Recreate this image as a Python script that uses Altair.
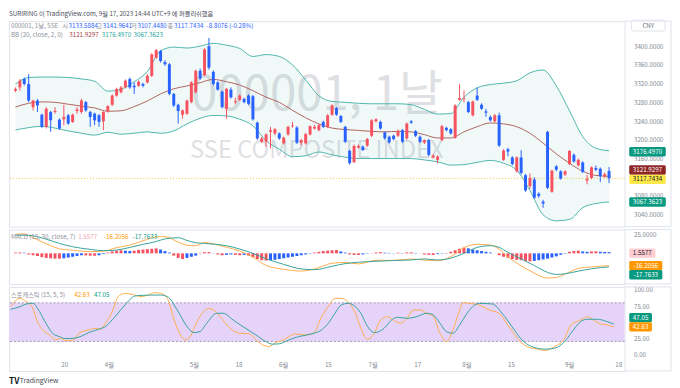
import altair as alt
import pandas as pd

# ------------------------------------------------------------------ data
OPEN = [3305.0, 3312.0, 3329.6, 3319.1, 3269.8, 3283.9, 3253.7, 3227.7, 3259.3, 3259.3,
        3243.1, 3243.8, 3252.3, 3238.2, 3261.4, 3259.3, 3280.4, 3259.3, 3255.8, 3252.3,
        3239.6, 3260.7, 3274.8, 3294.5, 3301.5, 3312.0, 3329.6, 3315.5, 3315.5, 3319.1,
        3322.6, 3336.6, 3375.3, 3389.4, 3366.0, 3361.3, 3298.0, 3274.8, 3253.7, 3255.8,
        3280.4, 3301.5, 3347.2, 3338.1, 3399.9, 3345.1, 3322.6, 3302.9, 3266.3, 3307.1,
        3280.4, 3285.3, 3287.4, 3294.5, 3293.1, 3236.8, 3196.0, 3196.0, 3217.1, 3213.6,
        3213.6, 3192.5, 3211.5, 3229.0, 3226.3, 3193.9, 3192.5, 3211.5, 3224.1,
        3220.6, 3238.2, 3227.7, 3253.7, 3267.7, 3250.9, 3227.7, 3176.3, 3152.4, 3183.4,
        3185.5, 3187.6, 3208.7, 3239.6, 3238.2, 3215.7, 3206.6, 3208.7, 3208.7, 3220.6,
        3203.0, 3239.6, 3218.5, 3206.6, 3193.9, 3199.5, 3162.3, 3157.3, 3199.5, 3225.6,
        3222.7, 3204.4, 3285.3, 3287.4, 3280.4, 3252.3, 3294.5, 3274.8, 3260.7, 3248.7,
        3239.6, 3252.3, 3157.3, 3179.8, 3162.3, 3132.7, 3162.3, 3124.3, 3101.1, 3115.1,
        3084.9, 3068.0, 3217.1, 3089.1, 3143.3, 3132.7, 3125.7, 3148.2, 3167.9, 3145.4,
        3151.7, 3113.0, 3118.6, 3139.8, 3138.3, 3122.2, 3133.5884]
HIGH = [3312.0, 3329.6, 3333.0, 3340.2, 3285.5, 3287.0, 3256.0, 3269.8, 3262.0, 3269.8,
        3246.0, 3274.8, 3255.0, 3256.0, 3269.8, 3287.4, 3283.0, 3262.0, 3258.0, 3255.0,
        3261.0, 3274.0, 3297.0, 3311.0, 3315.0, 3329.0, 3333.0, 3322.6, 3327.0, 3322.0,
        3340.0, 3385.0, 3394.0, 3392.0, 3370.0, 3364.0, 3300.0, 3277.0, 3265.0, 3286.0,
        3325.0, 3350.0, 3352.0, 3396.0, 3417.5, 3348.0, 3325.0, 3305.0, 3311.0, 3312.0,
        3290.0, 3297.0, 3290.0, 3297.0, 3296.0, 3239.0, 3206.0, 3214.0, 3227.7, 3225.0,
        3216.0, 3207.0, 3230.0, 3238.0, 3229.0, 3202.0, 3215.0, 3231.0, 3232.0,
        3234.0, 3241.0, 3255.0, 3276.0, 3270.0, 3253.0, 3230.0, 3179.0, 3190.0, 3190.0,
        3188.0, 3204.0, 3244.0, 3246.0, 3241.0, 3218.0, 3209.0, 3211.0, 3222.0, 3223.0,
        3237.0, 3242.0, 3221.0, 3209.0, 3201.0, 3202.0, 3169.0, 3167.0, 3232.0, 3228.0,
        3225.0, 3276.0, 3319.0, 3305.0, 3283.0, 3284.0, 3312.0, 3278.0, 3266.0, 3252.0,
        3255.0, 3258.0, 3180.0, 3183.0, 3165.0, 3165.0, 3178.0, 3127.0, 3128.0, 3120.0,
        3088.0, 3072.0, 3219.0, 3136.0, 3146.0, 3135.0, 3135.0, 3178.0, 3171.0, 3160.0,
        3154.0, 3125.0, 3143.0, 3145.0, 3141.0, 3130.0, 3141.9641]
LOW = [3301.5, 3305.0, 3316.0, 3280.4, 3262.8, 3259.3, 3225.0, 3224.1, 3217.1, 3255.8,
       3221.0, 3231.2, 3232.0, 3236.0, 3255.8, 3255.8, 3260.0, 3227.7, 3231.2, 3227.7,
       3220.6, 3258.0, 3272.0, 3292.0, 3299.0, 3310.0, 3309.0, 3298.0, 3313.0, 3312.0,
       3320.0, 3334.0, 3373.0, 3365.0, 3358.0, 3295.0, 3270.0, 3234.7, 3245.0, 3253.0,
       3278.0, 3299.0, 3328.0, 3336.0, 3350.0, 3316.0, 3305.0, 3267.0, 3245.0, 3288.0,
       3276.0, 3283.0, 3278.0, 3274.0, 3241.0, 3200.0, 3193.0, 3185.0, 3181.9, 3210.0,
       3200.0, 3190.0, 3209.0, 3226.0, 3191.0, 3188.0, 3190.0, 3209.0, 3222.0,
       3218.0, 3225.0, 3225.0, 3251.0, 3251.0, 3236.0, 3193.0, 3146.8, 3150.0, 3181.0,
       3176.0, 3185.0, 3206.0, 3237.0, 3222.0, 3200.0, 3192.0, 3199.0, 3206.0, 3193.0,
       3200.0, 3234.0, 3206.0, 3193.0, 3191.0, 3165.0, 3160.0, 3150.0, 3197.0, 3218.0,
       3211.0, 3202.0, 3283.0, 3280.0, 3257.0, 3250.0, 3283.0, 3264.0, 3249.0, 3239.0,
       3237.0, 3185.0, 3155.0, 3165.0, 3146.0, 3130.0, 3126.0, 3089.0, 3095.0, 3074.0,
       3076.0, 3055.0, 3095.0, 3087.0, 3133.0, 3115.0, 3123.0, 3146.0, 3151.0, 3143.0,
       3129.0, 3105.0, 3116.0, 3133.0, 3110.0, 3119.0, 3107.4480]
CLOSE = [3308.5, 3326.1, 3319.1, 3283.9, 3283.9, 3273.4, 3227.7, 3266.3, 3241.7, 3261.4,
         3224.1, 3248.7, 3234.7, 3253.7, 3264.9, 3283.9, 3262.8, 3248.7, 3241.7, 3238.2,
         3259.3, 3271.9, 3294.5, 3308.5, 3312.0, 3326.1, 3312.0, 3312.0, 3324.0, 3315.5,
         3336.6, 3382.4, 3391.5, 3368.3, 3361.3, 3298.0, 3273.4, 3261.4, 3262.8, 3283.9,
         3322.6, 3347.2, 3331.0, 3392.9, 3354.2, 3319.1, 3307.1, 3269.8, 3308.5, 3290.9,
         3282.5, 3294.5, 3280.4, 3276.9, 3243.8, 3203.0, 3203.0, 3211.5, 3220.6, 3222.7,
         3203.0, 3204.4, 3227.7, 3230.5, 3193.9, 3199.5, 3212.2, 3229.0, 3227.7,
         3231.2, 3227.7, 3252.3, 3273.4, 3253.7, 3238.2, 3196.0, 3150.3, 3186.9, 3186.9,
         3178.4, 3201.6, 3241.7, 3243.8, 3224.1, 3203.0, 3194.6, 3201.6, 3219.2, 3196.0,
         3234.7, 3236.8, 3208.7, 3196.0, 3198.8, 3167.9, 3166.5, 3164.4, 3229.0, 3220.6,
         3213.6, 3273.4, 3288.8, 3289.0, 3259.3, 3281.8, 3285.3, 3266.3, 3257.9, 3241.7,
         3252.3, 3187.6, 3177.0, 3174.9, 3148.2, 3162.3, 3129.2, 3091.9, 3118.6, 3076.5,
         3080.0, 3063.8, 3097.6, 3134.1, 3136.2, 3117.3, 3132.7, 3176.3, 3153.8, 3157.3,
         3131.3, 3116.5, 3141.2, 3136.2, 3122.2, 3126.551, 3117.7434]

BB_IDX = list(range(0, 136, 3))
BB_UPPER = [3319, 3333, 3334, 3334, 3333, 3330, 3325, 3304, 3308, 3324,
            3346, 3390, 3398, 3396, 3400, 3406, 3402, 3395, 3378, 3382,
            3378, 3360, 3328, 3294, 3282, 3280, 3278, 3277, 3277, 3277,
            3275, 3265, 3255, 3256, 3291, 3311, 3318, 3321, 3326, 3343,
            3349, 3315, 3262, 3207, 3182, 3176.4970]
BB_BASIS = [3270, 3278, 3281, 3280, 3276, 3272, 3268, 3261, 3262, 3271,
            3283, 3298, 3309, 3315, 3322, 3329, 3324, 3317, 3305, 3291,
            3280, 3263, 3247, 3234, 3225, 3222, 3220, 3218, 3217, 3218,
            3217, 3211, 3204, 3204, 3217, 3228, 3236, 3234, 3228, 3214,
            3193, 3170, 3150, 3133, 3124, 3121.9297]
BB_LOWER = [3221, 3226, 3229, 3225, 3219, 3214, 3210, 3216, 3212, 3214,
            3217, 3214, 3219, 3234, 3246, 3252, 3251, 3244, 3230, 3198,
            3180, 3164, 3166, 3174, 3168, 3163, 3160, 3160, 3160, 3160,
            3160, 3157, 3153, 3146, 3147, 3152, 3156, 3150, 3135, 3092,
            3040, 3027, 3030, 3055, 3064, 3067.3623]

MACD_HIST = [1.0, 1.2, 0.8, -1.5, -2.5, -3.5, -5.0, -6.0, -6.5, -7.0,
             -7.0, -6.5, -5.5, -4.5, -3.5, -2.5, -2.7, -3.0, -3.2, -2.5,
             -1.0, 1.0, 2.5, 3.5, 4.0, 3.5, 3.0, 3.5, 4.5, 5.0,
             5.5, 6.0, 6.5, 5.0, 3.0, 1.0, -3.0, -6.0, -7.5, -6.0,
             -4.5, -3.0, 0.5, 1.5, 1.6, 0.3, -1.5, -2.5, -2.0, -1.5,
             -2.0, -2.5, -2.0, -3.0, -5.0, -7.5, -9.0, -9.5, -9.0, -8.5,
             -7.5, -6.5, -5.5, -4.5, -3.5, -2.5, -1.5, -0.5, 1.0, 2.0,
             3.0, 3.5, 4.0, 4.3, 2.5, 1.0, -1.5, -2.0, -2.2, -1.5,
             -0.5, 0.3, 1.2, 1.5, 0.8, 0.5, 0.3, 0.8, 0.4, 1.2,
             1.3, 0.5, -0.2, -1.5, -2.0, -2.2, -1.0, -0.5, 0.5, 2.0,
             4.0, 6.0, 7.5, 6.5, 5.0, 4.0, 3.0, 2.0, 1.0, 0.1,
             -2.5, -4.5, -6.0, -7.5, -8.5, -9.0, -10.0, -10.5, -10.0, -9.0,
             -8.0, -7.0, -5.5, -4.0, -2.0, -0.5, 2.0, 3.0, 3.5, 2.5,
             2.0, 2.5, 2.6, 2.0, 1.8, 1.5577]
MACD_IDX = [0, 2, 4, 7, 10, 13, 17, 20, 23, 26, 29, 32, 34, 37, 39, 41, 43, 45, 48, 51,
            54, 57, 61, 65, 68, 72, 75, 78, 82, 86, 90, 93, 96, 99, 102, 105, 108, 110,
            112, 115, 118, 121, 123, 125, 128, 131, 135]
MACD_LINE = [25.0, 25.5, 20.5, 12.6, 6.0, 4.0, 2.3, 2.8, 7.5, 10.8, 16.5, 21.5, 22.0,
             14.8, 10.8, 10.0, 14.3, 12.4, 8.0, 3.1, -5.0, -16.0, -21.0, -23.3, -20.5,
             -13.0, -12.0, -13.9, -9.2, -9.2, -7.4, -8.9, -9.7, -4.5, 7.5, 11.8, 11.0,
             5.3, -4.7, -16.4, -26.0, -32.5, -31.7, -27.3, -19.9, -17.8, -16.2056]
SIGNAL_LINE = [24.0, 23.8, 23.0, 18.6, 13.0, 8.7, 5.2, 3.5, 4.3, 7.8, 11.8, 15.5, 19.0,
               20.5, 17.0, 14.0, 13.0, 12.1, 10.0, 5.6, 0.0, -7.0, -14.5, -20.5, -21.5,
               -17.0, -13.5, -11.7, -10.4, -9.5, -8.7, -7.4, -8.7, -6.3, 0.0, 7.8, 10.0,
               7.8, 1.3, -7.4, -16.0, -25.0, -27.7, -26.8, -23.4, -20.3, -17.7633]

K_IDX = [0, 2.1, 3.5, 5.0, 5.7, 7.2, 8.7, 10.1, 11.2, 12.3, 14.2, 15.3, 17.5, 18.9, 20.1,
         21.2, 22.6, 24.1, 25.6, 27.8, 29.2, 30.7, 32.2, 33.6, 35.1, 36.6, 38.0, 39.1,
         40.2, 41.7, 43.2, 44.3, 45.4, 46.9, 49.1, 51.3, 53.5, 54.9, 56.4, 57.9, 59.3,
         60.8, 62.3, 63.7, 65.9, 67.8, 69.6, 71.1, 72.6, 74.0, 75.5, 77.0, 78.4, 79.2,
         79.9, 81.4, 82.8, 84.3, 85.8, 87.3, 88.7, 90.2, 91.7, 93.1, 94.6, 96.1, 97.5,
         99.0, 100.5, 101.2, 102.7, 104.9, 107.1, 109.3, 111.5, 113.7, 115.9, 118.1,
         119.6, 121.8, 124.0, 125.4, 127.6, 129.1, 130.6, 132.0, 133.5, 135]
K_VAL = [74, 87, 81.8, 71.5, 56, 38, 30.2, 22.5, 25.1, 21.4, 22.5, 32.8, 38, 40.5, 39,
         48.3, 63.8, 89.6, 94.7, 92.1, 89.6, 92.1, 95.8, 94.7, 87, 53.4, 30.2, 22.5,
         27.6, 50.9, 66.3, 71.5, 68.9, 58.6, 40.5, 32.8, 31.8, 22.5, 14.7, 12.2, 18.4,
         21.4, 27.6, 31.8, 30.2, 32.8, 58.6, 74.1, 87, 87, 81.8, 66.3, 40.5, 27.6,
         23.5, 32.8, 53.4, 58.6, 52.4, 48.3, 56, 68.9, 68.9, 63.8, 58.6, 32.8, 19.9,
         38, 68.9, 80.3, 79.2, 76.7, 68.9, 63.8, 43.1, 22.5, 11.1, 8.0,
         6.0, 12.2, 25.1, 45.7, 53.4, 58.6, 52.4, 47.2, 45.7, 42.63]
D_IDX = [0, 2.1, 3.5, 5.0, 6.5, 7.9, 9.4, 10.9, 12.3, 14.2, 16.0, 17.5, 19.7, 21.2, 23.4,
         25.6, 27.8, 29.2, 31.4, 33.6, 35.1, 37.3, 39.5, 41.0, 42.4, 43.9, 46.1, 47.6,
         49.8, 52.0, 54.9, 57.1, 58.6, 60.1, 62.3, 64.5, 67.4, 69.6, 71.1, 72.6, 74.0,
         75.5, 77.0, 78.4, 79.9, 81.4, 83.6, 85.1, 86.5, 88.7, 90.9, 93.1, 94.6, 96.1,
         97.5, 99.0, 100.5, 101.9, 103.4, 104.9, 107.8, 110.0, 112.2, 114.4, 116.6,
         119.6, 121.8, 124.0, 125.4, 127.6, 129.1, 131.3, 133.5, 135]
D_VAL = [70, 74.1, 78.2, 79.2, 66.3, 48.3, 32.8, 27.6, 24.5, 25.1, 28.7, 33.8, 39, 43.1,
         58.6, 76.7, 90.6, 91.6, 92.1, 92.1, 89.6, 68.9, 43.1, 33.8, 35.4, 48.3, 63.8,
         63.8, 53.4, 43.1, 30.2, 19.9, 15.8, 16.3, 22.5, 27.6, 31.8, 38, 48.3, 63.8,
         76.7, 79.2, 75.1, 63.8, 43.1, 33.8, 40.5, 52.4, 57.6, 56, 58.6, 63.8, 61.2,
         48.3, 35.4, 32.8, 45.7, 61.2, 74.1, 79.2, 78.2, 63.8, 43.1, 22.5, 12.2,
         8.0, 9.6, 19.9, 32.8, 50.9, 54.5, 54.5, 50.9, 47.05]

TICK_IDX = [12, 22, 41, 51, 61, 71, 81, 91, 102, 112, 125, 136]
TICK_LABELS = ["20", "4월", "5월", "18", "6월", "15", "7월", "17", "8월", "15", "9월", "18"]
# scale labels the reference leaves visible (others sit under the value badges)
PRICE_TICKS = [3040, 3080, 3160, 3200, 3240, 3280, 3320, 3360, 3400]
MACD_TICKS = [25]
STOCH_TICKS = [0, 25, 75, 100]

# ------------------------------------------------------------------ style / layout
N = len(CLOSE)
IDX = list(range(N))
W = 623
H_MAIN, H_MACD, H_STOCH = 208, 55, 85
FONT = "Noto Sans CJK KR"
FS = 6.3
FRAME = "#E0E3EB"
AXC = "#858892"
GREY_T = "#8F929B"
UP, DOWN = "#F7525F", "#2962FF"
TEAL_BADGE, ORANGE_BADGE = "#089981", "#FF9800"
TEAL_LINE, ORANGE_LINE = "#35A39B", "#FFAD4A"

xs = alt.Scale(domain=[-0.35, 137.4], nice=False, zero=False)
ys_main = alt.Scale(domain=[3014.6, 3453.4], nice=False, zero=False)
ys_macd = alt.Scale(domain=[-40.26, 31.17], nice=False, zero=False)
ys_st = alt.Scale(domain=[-25.8, 104.76], nice=False, zero=False)


def right_axis(values, fmt):
    return alt.Axis(orient="right", values=values, format=fmt, ticks=False, domain=False,
                    grid=False, labelPadding=9, labelFontSize=FS, labelColor=AXC,
                    labelFont=FONT, title=None, labelOverlap=False)


price_axis = right_axis(PRICE_TICKS, ".4f")
macd_axis = right_axis(MACD_TICKS, ".4f")
st_axis = right_axis(STOCH_TICKS, ".2f")
label_expr = ("[" + ",".join(f"'{t}'" for t in TICK_LABELS) + "][indexof(["
              + ",".join(str(i) for i in TICK_IDX) + "], datum.value)]")
x_axis = alt.Axis(orient="bottom", values=TICK_IDX, labelExpr=label_expr, ticks=False, tickSize=0,
                  domain=False, grid=False, labelPadding=-9, labelFontSize=FS, labelColor=AXC,
                  labelFont=FONT, labelFlush=False, labelOverlap=False, title=None)

ONE = pd.DataFrame({"k": [0]})


def X(field="idx", axis=None):
    return alt.X(f"{field}:Q", scale=xs, axis=axis)


def txt(text, x, y, color, size=FS, baseline="middle", align="left", weight="normal"):
    return alt.Chart(ONE).mark_text(text=text, color=color, fontSize=size, font=FONT,
                                    baseline=baseline, align=align, fontWeight=weight).encode(
        x=alt.value(x), y=alt.value(y))


def badge(value, label, bg, fg, yscale, yaxis, yoff=0):
    width = len(label) * 3.5 + 5.5
    cx = W + 4.7 + width / 2
    df = pd.DataFrame({"v": [value], "t": [label]})
    y = alt.Y("v:Q", scale=yscale, axis=yaxis)
    box = alt.Chart(df).mark_tick(color=bg, size=width, thickness=9.5, opacity=1,
                                  yOffset=yoff, cornerRadius=1.5).encode(x=alt.value(cx), y=y)
    lab = alt.Chart(df).mark_text(color=fg, fontSize=FS, font=FONT, align="center",
                                  baseline="middle", yOffset=yoff).encode(
        x=alt.value(cx), y=y, text="t:N")
    return [box, lab]


def frame(h):
    return [
        alt.Chart(ONE).mark_rule(color=FRAME, strokeWidth=1).encode(
            x=alt.value(W + 47), y=alt.value(0), y2=alt.value(h)),
        alt.Chart(ONE).mark_rule(color=FRAME, strokeWidth=1).encode(
            x=alt.value(W), x2=alt.value(W + 47), y=alt.value(0)),
        alt.Chart(ONE).mark_rule(color=FRAME, strokeWidth=1).encode(
            x=alt.value(W), x2=alt.value(W + 47), y=alt.value(h)),
    ]


# ------------------------------------------------------------------ main pane
candles = pd.DataFrame({"idx": IDX, "open": OPEN, "high": HIGH, "low": LOW, "close": CLOSE})
candles["dir"] = ["up" if c >= o else "down" for o, c in zip(OPEN, CLOSE)]
ccol = alt.Color("dir:N", scale=alt.Scale(domain=["up", "down"], range=[UP, DOWN]), legend=None)


def YM(field):
    return alt.Y(f"{field}:Q", scale=ys_main, axis=price_axis)


bb = pd.DataFrame({"idx": BB_IDX, "upper": BB_UPPER, "basis": BB_BASIS, "lower": BB_LOWER})

wm1 = txt("000001, 1날", W / 2, 76, "#DFE0E3", size=48, align="center")
wm2 = txt("SSE COMPOSITE INDEX", W / 2, 131.5, "#DFE0E3", size=24, align="center")
bb_fill = alt.Chart(bb).mark_area(color="#26A69A", opacity=0.07, interpolate="monotone").encode(
    x=X(), y=YM("upper"), y2="lower:Q")
bb_up = alt.Chart(bb).mark_line(color="#4DB6AC", strokeWidth=1, interpolate="monotone").encode(
    x=X(), y=YM("upper"))
bb_lo = alt.Chart(bb).mark_line(color="#4DB6AC", strokeWidth=1, interpolate="monotone").encode(
    x=X(), y=YM("lower"))
bb_mid = alt.Chart(bb).mark_line(color="#B0645E", strokeWidth=1, interpolate="monotone").encode(
    x=X(), y=YM("basis"))
last = pd.DataFrame({"close": [CLOSE[-1]]})
close_line = alt.Chart(last).mark_rule(color="#F2C230", strokeDash=[1, 2], strokeWidth=1).encode(
    y=YM("close"))
wicks = alt.Chart(candles).mark_rule(strokeWidth=1).encode(
    x=X(), y=YM("low"), y2="high:Q", color=ccol)
bodies = alt.Chart(candles).mark_bar(size=3).encode(
    x=X(), y=YM("open"), y2="close:Q", color=ccol)

o, h, l, c = OPEN[-1], HIGH[-1], LOW[-1], CLOSE[-1]
chg = c - CLOSE[-2]
pct = chg / CLOSE[-2] * 100
BLUE_T = "#2962FF"
y1, y2 = 5.3, 14.3
hdr = [
    txt("000001, 1날, SSE", 2, y1, GREY_T),
    txt("시", 53.8, y1, GREY_T), txt(f"{o:.4f}", 60.3, y1, BLUE_T),
    txt("고", 88.5, y1, GREY_T), txt(f"{h:.4f}", 95, y1, BLUE_T),
    txt("저", 123.5, y1, GREY_T), txt(f"{l:.4f}", 130, y1, BLUE_T),
    txt("종", 160.5, y1, GREY_T), txt(f"{c:.4f}", 167, y1, BLUE_T),
    txt(f"{chg:.4f} ({pct:.2f}%)", 200, y1, BLUE_T),
    txt("BB (20, close, 2, 0)", 2, y2, GREY_T),
    txt(f"{BB_BASIS[-1]:.4f}", 61, y2, "#A8413C"),
    txt(f"{BB_UPPER[-1]:.4f}", 94, y2, "#26A69A"),
    txt(f"{BB_LOWER[-1]:.4f}", 126, y2, "#26A69A"),
]
main_badges = (badge(BB_UPPER[-1], f"{BB_UPPER[-1]:.4f}", TEAL_BADGE, "white", ys_main, price_axis, 1)
               + badge(BB_BASIS[-1], f"{BB_BASIS[-1]:.4f}", "#8E2626", "white", ys_main, price_axis, -6.5)
               + badge(CLOSE[-1], f"{CLOSE[-1]:.4f}", "#FFE94A", "#131722", ys_main, price_axis, 1)
               + badge(BB_LOWER[-1], f"{BB_LOWER[-1]:.4f}", TEAL_BADGE, "white", ys_main, price_axis, 0))
cny_box = alt.Chart(ONE).mark_rect(fill="white", stroke=FRAME, strokeWidth=1, cornerRadius=2).encode(
    x=alt.value(W + 7), x2=alt.value(W + 41), y=alt.value(-1), y2=alt.value(10))
cny_txt = txt("CNY", W + 24, 4.5, "#6A6D78", align="center")
top_text = txt("SURIRING 이 TradingView.com, 9월 17, 2023 14:44 UTC+9 에 퍼블리쉬했음",
               0, -10, "#4A4E59", baseline="top")

main = alt.layer(wm1, wm2, bb_fill, bb_up, bb_lo, bb_mid, close_line, wicks, bodies,
                 *hdr, *main_badges, cny_box, cny_txt, top_text, *frame(H_MAIN)).properties(
    width=W, height=H_MAIN)

# ------------------------------------------------------------------ MACD pane
cats = []
prev = None
for v in MACD_HIST:
    if v >= 0:
        cats.append("pu" if prev is None or v >= prev else "pd")
    else:
        cats.append("nd" if prev is None or v <= prev else "nu")
    prev = v
hist_df = pd.DataFrame({"idx": IDX, "hist": MACD_HIST, "zero": [0] * N, "cat": cats})
hcol = alt.Color("cat:N", scale=alt.Scale(domain=["pu", "pd", "nd", "nu"],
                                          range=["#FF5252", "#FFCDD2", "#2196F3", "#BBDEFB"]),
                 legend=None)


def YD(field):
    return alt.Y(f"{field}:Q", scale=ys_macd, axis=macd_axis)


hist = alt.Chart(hist_df).mark_bar(size=3).encode(
    x=X(), y=YD("hist"), y2="zero:Q", color=hcol)
ml = pd.DataFrame({"idx": MACD_IDX, "macd": MACD_LINE, "signal": SIGNAL_LINE})
macd_line = alt.Chart(ml).mark_line(color=ORANGE_LINE, strokeWidth=1, interpolate="monotone").encode(
    x=X(), y=YD("macd"))
sig_line = alt.Chart(ml).mark_line(color=TEAL_LINE, strokeWidth=1, interpolate="monotone").encode(
    x=X(), y=YD("signal"))
my = 7.3
macd_hdr = [
    txt("MACD (15, 30, close, 7)", 2, my, GREY_T),
    txt(f"{MACD_HIST[-1]:.4f}", 70, my, "#F5A3B3"),
    txt(f"{MACD_LINE[-1]:.4f}", 96, my, ORANGE_BADGE),
    txt(f"{SIGNAL_LINE[-1]:.4f}", 125, my, TEAL_BADGE),
]
macd_badges = (badge(MACD_HIST[-1], f"{MACD_HIST[-1]:.4f}", "#FFCDD2", "#131722", ys_macd, macd_axis, 1)
               + badge(MACD_LINE[-1], f"{MACD_LINE[-1]:.4f}", ORANGE_BADGE, "white", ys_macd, macd_axis, 0)
               + badge(SIGNAL_LINE[-1], f"{SIGNAL_LINE[-1]:.4f}", TEAL_BADGE, "white", ys_macd, macd_axis, 8))
macd = alt.layer(hist, macd_line, sig_line, *macd_hdr, *macd_badges, *frame(H_MACD)).properties(
    width=W, height=H_MACD)

# ------------------------------------------------------------------ Stochastic pane


def YS(field):
    return alt.Y(f"{field}:Q", scale=ys_st, axis=st_axis)


band = alt.Chart(pd.DataFrame({"hi": [80], "lo": [20]})).mark_rect(color="#E5D3FA").encode(
    x=alt.value(0), x2=alt.value(W), y=YS("hi"), y2="lo:Q")
levels = alt.Chart(pd.DataFrame({"lvl": [80, 20]})).mark_rule(
    color="#A09AAE", strokeDash=[2, 2], strokeWidth=1).encode(y=YS("lvl"))
k_line = alt.Chart(pd.DataFrame({"idx": K_IDX, "k": K_VAL})).mark_line(
    color=ORANGE_LINE, strokeWidth=1, interpolate="monotone").encode(
    x=X(axis=x_axis), y=YS("k"))
d_line = alt.Chart(pd.DataFrame({"idx": D_IDX, "d": D_VAL})).mark_line(
    color=TEAL_LINE, strokeWidth=1, interpolate="monotone").encode(
    x=X(axis=x_axis), y=YS("d"))
sy = 7.7
st_hdr = [
    txt("스토캐스틱 (15, 5, 5)", 2, sy, GREY_T),
    txt(f"{K_VAL[-1]:.2f}", 66, sy, ORANGE_BADGE),
    txt(f"{D_VAL[-1]:.2f}", 86, sy, TEAL_BADGE),
]
st_badges = (badge(D_VAL[-1], f"{D_VAL[-1]:.2f}", TEAL_BADGE, "white", ys_st, st_axis, -6.5)
             + badge(K_VAL[-1], f"{K_VAL[-1]:.2f}", ORANGE_BADGE, "white", ys_st, st_axis, 0))
logo = [txt("TV", 0, H_STOCH + 10, "#131722", size=8.5, weight="bold"),
        txt("TradingView", 11, H_STOCH + 10, "#434651", size=6.8)]
stoch = alt.layer(band, levels, k_line, d_line, *st_hdr, *st_badges, *logo,
                  *frame(H_STOCH)).properties(width=W, height=H_STOCH)

chart = alt.vconcat(main, macd, stoch, spacing=1).properties(
    padding=0, background="white").configure_view(stroke=FRAME, strokeWidth=1)

chart.save("out.html", embed_options={"renderer": "svg", "actions": False})
